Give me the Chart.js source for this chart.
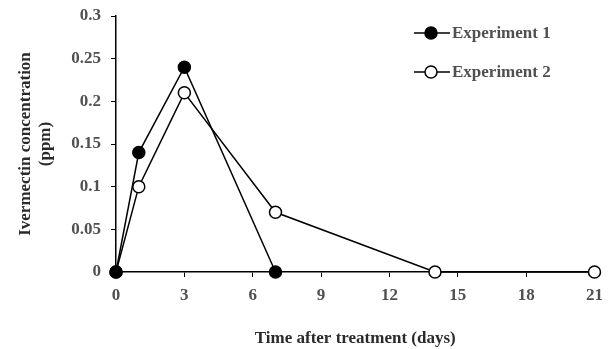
<!DOCTYPE html>
<html>
<head>
<meta charset="utf-8">
<script src="https://cdn.jsdelivr.net/npm/chart.js@4/dist/chart.umd.min.js"></script>
<style>
  body { margin: 0; background: #fff; }
  #wrap { width: 611px; height: 349px; }
</style>
</head>
<body>
<div id="wrap"><canvas id="chart" width="611" height="349"></canvas></div>
<script>
// data
const exp1Days = [0, 1, 3, 7];
const exp1 = [0, 0.14, 0.24, 0];
const exp2Days = [0, 1, 3, 7, 14, 21];
const exp2 = [0, 0.10, 0.21, 0.07, 0, 0];
const xTicks = [0, 3, 6, 9, 12, 15, 18, 21];
const yTicks = [0, 0.05, 0.1, 0.15, 0.2, 0.25, 0.3];

function toPoints(xs, ys) {
  return xs.map((d, i) => ({ x: d, y: ys[i] }));
}

const textColor = '#505050';
const titleColor = '#2a2a2a';
const fontFam = '"Liberation Serif", "Times New Roman", serif';

/* legend drawn by hand, top right inside the plot */
const sideLegend = {
  id: 'sideLegend',
  afterDraw(chart) {
    const ctx = chart.ctx;
    const rows = [33, 72];
    chart.data.datasets.forEach((ds, i) => {
      const y = rows[i];
      ctx.save();
      ctx.strokeStyle = '#000';
      ctx.lineWidth = 1.5;
      ctx.beginPath();
      ctx.moveTo(414, y);
      ctx.lineTo(450, y);
      ctx.stroke();
      ctx.beginPath();
      ctx.arc(431, y, 6, 0, Math.PI * 2);
      ctx.fillStyle = ds.pointBackgroundColor;
      ctx.fill();
      ctx.stroke();
      ctx.fillStyle = textColor;
      ctx.font = 'bold 17px ' + fontFam;
      ctx.textBaseline = 'middle';
      ctx.fillText(ds.label, 452, y + 1);
      ctx.restore();
    });
  }
};

new Chart(document.getElementById('chart'), {
  type: 'line',
  data: {
    datasets: [{
      label: 'Experiment 1',
      data: toPoints(exp1Days, exp1),
      borderColor: '#000',
      borderWidth: 1.5,
      pointRadius: 6,
      pointBorderWidth: 1.5,
      pointBorderColor: '#000',
      pointBackgroundColor: '#000',
      tension: 0
    }, {
      label: 'Experiment 2',
      data: toPoints(exp2Days, exp2),
      borderColor: '#000',
      borderWidth: 1.5,
      pointRadius: 6,
      pointBorderWidth: 1.5,
      pointBorderColor: '#000',
      pointBackgroundColor: '#fff',
      tension: 0
    }]
  },
  options: {
    responsive: false,
    animation: false,
    clip: false,
    layout: { padding: { top: 16, right: 16, bottom: 0, left: 15 } },
    plugins: {
      legend: { display: false },
      tooltip: { enabled: false }
    },
    scales: {
      x: {
        type: 'linear',
        min: 0,
        max: 21,
        afterBuildTicks: (s) => { s.ticks = xTicks.map(v => ({ value: v })); },
        afterFit: (s) => { s.height = 77; },
        grid: { drawOnChartArea: false, drawTicks: true, tickLength: 5, color: '#000' },
        border: { display: true, color: '#000', width: 1.5 },
        ticks: { color: textColor, font: { family: fontFam, size: 17, weight: 'bold' }, padding: 8, maxRotation: 0 },
        title: {
          display: true,
          text: 'Time after treatment (days)',
          color: titleColor,
          font: { family: fontFam, size: 17, weight: 'bold' },
          padding: { top: 22, bottom: 0 }
        }
      },
      y: {
        min: 0,
        max: 0.3,
        afterBuildTicks: (s) => { s.ticks = yTicks.map(v => ({ value: v })); },
        afterFit: (s) => { s.width = 101; s.paddingTop = 0; s.paddingBottom = 0; },
        grid: { drawOnChartArea: false, drawTicks: true, tickLength: 5, color: '#000' },
        border: { display: true, color: '#000', width: 1.5 },
        ticks: {
          color: textColor,
          font: { family: fontFam, size: 17, weight: 'bold' },
          padding: 10,
          callback: (v) => String(Math.round(v * 100) / 100)
        },
        title: {
          display: true,
          text: ['Ivermectin concentration', '(ppm)'],
          color: titleColor,
          font: { family: fontFam, size: 17, weight: 'bold' },
          padding: { top: 0, bottom: 0 }
        }
      }
    }
  },
  plugins: [sideLegend]
});
</script>
</body>
</html>
